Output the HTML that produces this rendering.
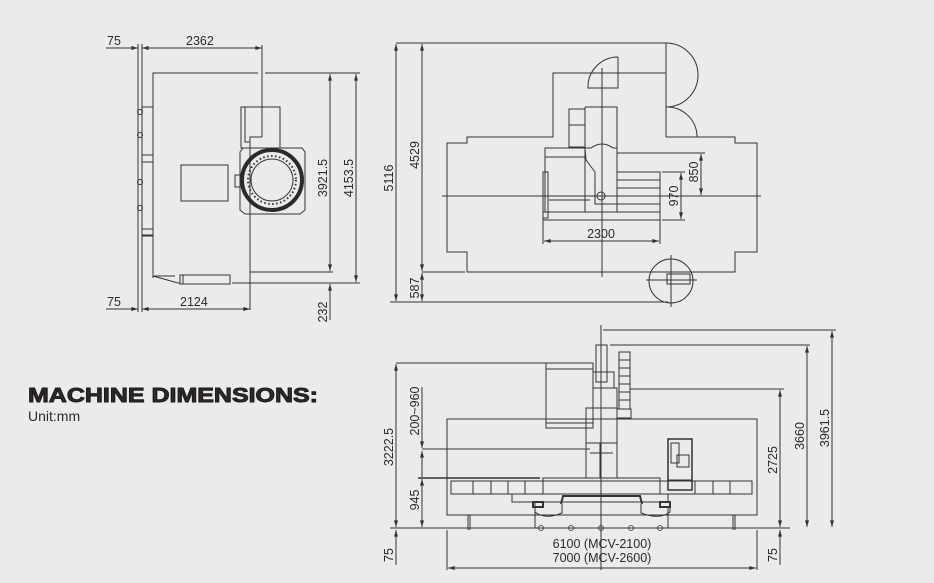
<!DOCTYPE html>
<html><head><meta charset="utf-8"><style>
html,body{margin:0;padding:0;background:#ebebeb;}
svg{display:block;}
text{font-family:"Liberation Sans",sans-serif;fill:#2a2a2a;}
</style></head><body>
<svg width="934" height="583" viewBox="0 0 934 583" xmlns="http://www.w3.org/2000/svg">
<defs>
<marker id="a" viewBox="0 0 10 6" refX="10" refY="3" markerWidth="7" markerHeight="4" orient="auto-start-reverse"><path d="M0,0L10,3L0,6z" fill="#333"/></marker>
</defs>
<rect width="934" height="583" fill="#ebebeb"/>
<g stroke="#333" stroke-width="1" fill="none">
<line x1="138" y1="44" x2="138" y2="312"/><line x1="142" y1="44" x2="142" y2="312"/>
<line x1="106" y1="48" x2="138" y2="48" marker-end="url(#a)"/>
<line x1="142" y1="48" x2="262" y2="48" marker-start="url(#a)" marker-end="url(#a)"/>
<line x1="262" y1="45" x2="262" y2="137"/>
<polyline points="262,137 250,137 250,310"/>
<line x1="106" y1="309" x2="138" y2="309" marker-end="url(#a)"/>
<line x1="142" y1="309" x2="250" y2="309" marker-start="url(#a)" marker-end="url(#a)"/>
<polyline points="258,73 153,73 153,278"/>
<line x1="265" y1="73" x2="360" y2="73"/>
<line x1="250" y1="272" x2="333" y2="272"/>
<line x1="232" y1="283" x2="360" y2="283"/>
<line x1="330" y1="74" x2="330" y2="271" marker-start="url(#a)" marker-end="url(#a)"/>
<line x1="356" y1="74" x2="356" y2="282" marker-start="url(#a)" marker-end="url(#a)"/>
<line x1="330" y1="284" x2="330" y2="320" marker-start="url(#a)"/>
<polyline points="153,276 178,283 180,283"/>
<line x1="153" y1="276" x2="175" y2="276"/>
<rect x="180" y="275" width="50" height="9"/>
<line x1="183" y1="275" x2="183" y2="284"/>
<rect x="181" y="165" width="47" height="36"/>
<polyline points="142,107 153,107"/><polyline points="142,235 153,235"/>
<rect x="142" y="155" width="11" height="7"/><rect x="142" y="229" width="11" height="7"/>
<circle cx="140" cy="112" r="2.5"/><circle cx="140" cy="135" r="2.5"/><circle cx="140" cy="182" r="2.5"/><circle cx="140" cy="208" r="2.5"/>
<rect x="241" y="107" width="39" height="41"/>
<polyline points="245,107 245,142 250,142"/>
<polyline points="243,148 240,152 240,210 245,214 300,214 305,210 305,152 302,148 243,148"/>
<circle cx="272" cy="180" r="30" stroke-width="4" stroke="#2a2a2a"/>
<circle cx="272" cy="180" r="24" stroke-dasharray="1.5 2.5" stroke-width="2"/>
<circle cx="272" cy="180" r="21"/>
<rect x="235" y="175" width="5" height="12"/>
<line x1="396" y1="43" x2="666" y2="43"/>
<line x1="390" y1="302" x2="668" y2="302"/>
<line x1="422" y1="272" x2="465" y2="272"/>
<line x1="396" y1="44" x2="396" y2="301" marker-start="url(#a)" marker-end="url(#a)"/>
<line x1="422" y1="44" x2="422" y2="271" marker-start="url(#a)" marker-end="url(#a)"/>
<line x1="422" y1="273" x2="422" y2="301" marker-start="url(#a)" marker-end="url(#a)"/>
<polyline points="666,73 553,73 553,137 467,137 467,143 447,143 447,252 467,252 467,272 735,272 735,252 757,252 757,143 735,143 735,137 666,137"/>
<line x1="666" y1="43" x2="666" y2="137"/>
<path d="M666,43 A32,32 0 0 1 666,107 A30,30 0 0 1 697,137 L666,137"/>
<path d="M618,57 L618,88 L588,88 A30,30 0 0 1 618,57"/>
<line x1="602" y1="68" x2="602" y2="277"/>
<line x1="442" y1="196" x2="761" y2="196"/>
<rect x="569" y="109" width="16" height="38"/>
<line x1="569" y1="125" x2="585" y2="125"/>
<polyline points="585,107 617,107 617,148"/>
<line x1="585" y1="107" x2="585" y2="148"/>
<path d="M585,148 L591,148 Q602,140 613,148 L617,148 L617,204 L595,204 L595,172 L586,160 Z"/>
<rect x="545" y="148" width="40" height="64"/>
<line x1="545" y1="157" x2="585" y2="157"/>
<line x1="549" y1="200" x2="590" y2="200"/>
<rect x="543" y="172" width="5" height="46"/>
<rect x="543" y="212" width="117" height="8"/>
<rect x="617" y="172" width="43" height="40"/>
<line x1="617" y1="180" x2="660" y2="180"/><line x1="617" y1="188" x2="660" y2="188"/><line x1="617" y1="204" x2="660" y2="204"/>
<circle cx="601" cy="196" r="4"/>
<line x1="617" y1="153" x2="705" y2="153"/>
<line x1="662" y1="172" x2="685" y2="172"/>
<line x1="662" y1="220" x2="685" y2="220"/>
<line x1="701" y1="154" x2="701" y2="195" marker-start="url(#a)" marker-end="url(#a)"/>
<line x1="681" y1="173" x2="681" y2="219" marker-start="url(#a)" marker-end="url(#a)"/>
<line x1="543" y1="220" x2="543" y2="244"/><line x1="660" y1="220" x2="660" y2="244"/>
<line x1="544" y1="241" x2="659" y2="241" marker-start="url(#a)" marker-end="url(#a)"/>
<circle cx="671" cy="281" r="22"/>
<line x1="646" y1="280" x2="697" y2="280"/><line x1="671" y1="255" x2="671" y2="307"/>
<rect x="667" y="274" width="23" height="10"/>
<line x1="390" y1="528" x2="790" y2="528"/>
<rect x="447" y="419" width="310" height="96"/>
<line x1="468" y1="515" x2="468" y2="530"/><line x1="470" y1="515" x2="470" y2="530"/>
<line x1="733" y1="515" x2="733" y2="530"/><line x1="735" y1="515" x2="735" y2="530"/>
<line x1="447" y1="530" x2="447" y2="570"/><line x1="757" y1="530" x2="757" y2="570"/>
<line x1="448" y1="568" x2="756" y2="568" marker-start="url(#a)" marker-end="url(#a)"/>
<rect x="451" y="481" width="301" height="13"/>
<line x1="473" y1="481" x2="473" y2="494"/><line x1="491" y1="481" x2="491" y2="494"/><line x1="508" y1="481" x2="508" y2="494"/><line x1="525" y1="481" x2="525" y2="494"/>
<line x1="695" y1="481" x2="695" y2="494"/><line x1="713" y1="481" x2="713" y2="494"/><line x1="730" y1="481" x2="730" y2="494"/>
<rect x="543" y="478" width="117" height="16"/>
<polyline points="512,494 512,502 668,502 668,494"/>
<path d="M561,504 L563,496 L640,496 L642,504" stroke-width="2"/>
<path d="M535,502 L535,512 Q545,520 562,513 L562,504"/><path d="M641,504 L641,513 Q660,520 670,512 L670,502"/>
<rect x="533" y="502" width="10" height="5" stroke-width="2"/><rect x="660" y="502" width="10" height="5" stroke-width="2"/>
<line x1="535" y1="507" x2="535" y2="528"/><line x1="668" y1="507" x2="668" y2="528"/>
<g stroke-width="0.8"><circle cx="541" cy="528" r="2.5"/><circle cx="571" cy="528" r="2.5"/><circle cx="601" cy="528" r="2.5"/><circle cx="631" cy="528" r="2.5"/><circle cx="660" cy="528" r="2.5"/></g>
<rect x="546" y="363" width="47" height="65"/>
<line x1="546" y1="369" x2="593" y2="369"/><line x1="546" y1="423" x2="593" y2="423"/>
<rect x="596" y="345" width="11" height="37"/>
<rect x="593" y="372" width="21" height="16"/>
<rect x="593" y="388" width="24" height="20"/>
<rect x="586" y="408" width="31" height="35"/>
<rect x="586" y="443" width="31" height="35"/>
<line x1="590" y1="453" x2="613" y2="453"/><line x1="600" y1="443" x2="600" y2="478"/>
<rect x="619" y="352" width="11" height="57"/>
<line x1="619" y1="360" x2="630" y2="360"/><line x1="619" y1="368" x2="630" y2="368"/><line x1="619" y1="376" x2="630" y2="376"/><line x1="619" y1="384" x2="630" y2="384"/><line x1="619" y1="392" x2="630" y2="392"/><line x1="619" y1="400" x2="630" y2="400"/>
<rect x="617" y="409" width="14" height="9"/>
<rect x="668" y="439" width="24" height="51" stroke-width="1.5"/>
<rect x="671" y="443" width="8" height="20"/><rect x="677" y="455" width="12" height="12"/>
<line x1="668" y1="480" x2="692" y2="480"/>
<line x1="601" y1="325" x2="601" y2="570"/>
<line x1="603" y1="330" x2="836" y2="330"/>
<line x1="610" y1="345" x2="810" y2="345"/>
<line x1="630" y1="389" x2="784" y2="389"/>
<line x1="396" y1="363" x2="590" y2="363"/>
<line x1="422" y1="449" x2="590" y2="449"/>
<line x1="418" y1="478" x2="540" y2="478" stroke-width="1.5"/>
<line x1="396" y1="364" x2="396" y2="527" marker-start="url(#a)" marker-end="url(#a)"/>
<line x1="422" y1="387" x2="422" y2="448" marker-end="url(#a)"/>
<line x1="422" y1="451" x2="422" y2="477" marker-start="url(#a)"/>
<line x1="422" y1="479" x2="422" y2="527" marker-start="url(#a)" marker-end="url(#a)"/>
<line x1="396" y1="530" x2="396" y2="565" marker-start="url(#a)"/>
<line x1="780" y1="530" x2="780" y2="565" marker-start="url(#a)"/>
<line x1="780" y1="390" x2="780" y2="527" marker-start="url(#a)" marker-end="url(#a)"/>
<line x1="807" y1="346" x2="807" y2="527" marker-start="url(#a)" marker-end="url(#a)"/>
<line x1="832" y1="331" x2="832" y2="527" marker-start="url(#a)" marker-end="url(#a)"/>
</g>
<g font-size="12.5">
<text x="107" y="45">75</text>
<text x="186" y="45">2362</text>
<text x="107" y="306">75</text>
<text x="180" y="306">2124</text>
<text transform="translate(327,178) rotate(-90)" text-anchor="middle">3921.5</text>
<text transform="translate(353,178) rotate(-90)" text-anchor="middle">4153.5</text>
<text transform="translate(327,312) rotate(-90)" text-anchor="middle">232</text>
<text transform="translate(393,178) rotate(-90)" text-anchor="middle">5116</text>
<text transform="translate(419,155) rotate(-90)" text-anchor="middle">4529</text>
<text transform="translate(419,288) rotate(-90)" text-anchor="middle">587</text>
<text transform="translate(698,172) rotate(-90)" text-anchor="middle">850</text>
<text transform="translate(678,196) rotate(-90)" text-anchor="middle">970</text>
<text x="601" y="238" text-anchor="middle">2300</text>
<text transform="translate(393,447) rotate(-90)" text-anchor="middle">3222.5</text>
<text transform="translate(419,411) rotate(-90)" text-anchor="middle">200~960</text>
<text transform="translate(419,500) rotate(-90)" text-anchor="middle">945</text>
<text transform="translate(393,555) rotate(-90)" text-anchor="middle">75</text>
<text transform="translate(777,555) rotate(-90)" text-anchor="middle">75</text>
<text transform="translate(777,460) rotate(-90)" text-anchor="middle">2725</text>
<text transform="translate(804,436) rotate(-90)" text-anchor="middle">3660</text>
<text transform="translate(829,428) rotate(-90)" text-anchor="middle">3961.5</text>
<text x="602" y="548" text-anchor="middle">6100 (MCV-2100)</text>
<text x="602" y="562" text-anchor="middle">7000 (MCV-2600)</text>
</g>
<text x="28" y="402" font-size="20" font-weight="bold" textLength="290" lengthAdjust="spacingAndGlyphs" fill="#1f1a17" stroke="#1f1a17" stroke-width="0.9">MACHINE DIMENSIONS:</text>
<text x="28" y="421" font-size="14">Unit:mm</text>
</svg>
</body></html>
